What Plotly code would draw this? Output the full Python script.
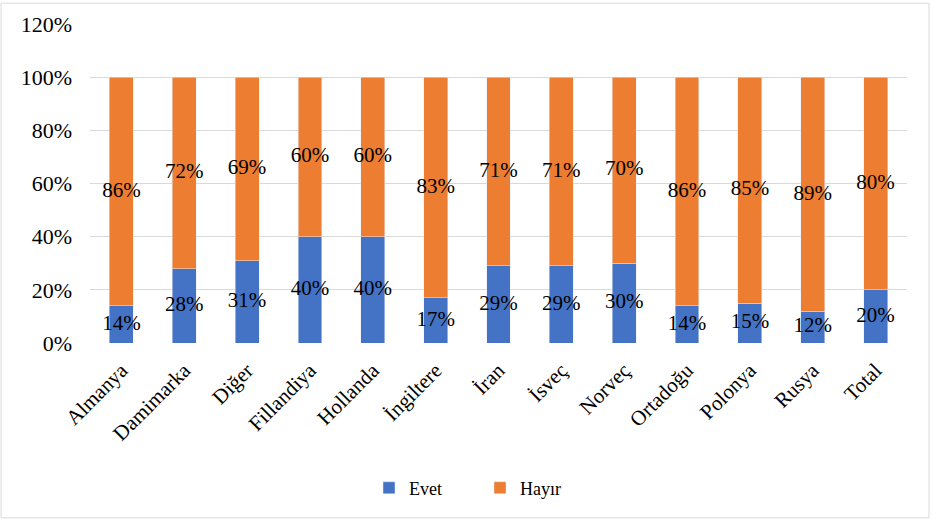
import plotly.graph_objects as go

categories = ["Almanya", "Damimarka", "Diğer", "Fillandiya", "Hollanda", "İngiltere",
              "İran", "İsveç", "Norveç", "Ortadoğu", "Polonya", "Rusya", "Total"]
evet = [14, 28, 31, 40, 40, 17, 29, 29, 30, 14, 15, 12, 20]
hayir = [86, 72, 69, 60, 60, 83, 71, 71, 70, 86, 85, 89, 80]
y_ticks = [0, 20, 40, 60, 80, 100, 120]

BLUE = "#4472C4"
ORANGE = "#ED7D31"
FONT = "Liberation Serif"

W, H = 932, 522
L, R, T, B = 90, 25, 22, 179
pw, ph = W - L - R, H - T - B

evet_n = [e / (e + h) * 100 for e, h in zip(evet, hayir)]
hayir_n = [h / (e + h) * 100 for e, h in zip(evet, hayir)]

fig = go.Figure()
fig.add_trace(go.Bar(x=categories, y=evet_n, name="Evet", marker_color=BLUE,
                     hoverinfo="skip"))
fig.add_trace(go.Bar(x=categories, y=hayir_n, name="Hayır", marker_color=ORANGE,
                     hoverinfo="skip"))

# data labels centred in each segment
fig.add_trace(go.Scatter(
    x=categories, y=[v / 2 for v in evet_n], mode="text",
    text=[f"{v}%" for v in evet], textfont=dict(family=FONT, size=21, color="black"),
    showlegend=False, hoverinfo="skip"))
fig.add_trace(go.Scatter(
    x=categories, y=[e + h / 2 for e, h in zip(evet_n, hayir_n)], mode="text",
    text=[f"{v}%" for v in hayir], textfont=dict(family=FONT, size=21, color="black"),
    showlegend=False, hoverinfo="skip"))

fig.update_layout(
    barmode="stack",
    bargap=0.62,
    width=W, height=H,
    margin=dict(l=L, r=R, t=T, b=B),
    paper_bgcolor="white", plot_bgcolor="white",
    font=dict(family=FONT, color="black"),
    legend=dict(orientation="h", x=(369 - L) / pw, xanchor="left", y=(343 - 489) / ph,
                yanchor="middle", font=dict(family=FONT, size=18, color="black"),
                itemwidth=30, traceorder="normal", entrywidth=66),
    showlegend=True,
)
fig.update_xaxes(tickangle=-45, tickfont=dict(family=FONT, size=21, color="black"),
                 range=[-0.5, len(categories) - 0.5],
                 showgrid=False, showline=False, ticks="", ticklabelstandoff=10)
fig.update_yaxes(range=[0, 120], tickvals=y_ticks, ticktext=[f"{v}%" for v in y_ticks],
                 tickfont=dict(family=FONT, size=22, color="black"),
                 showgrid=True, gridcolor="#D9D9D9", gridwidth=1, zeroline=False,
                 showline=False, ticks="", ticklabelstandoff=17)

# outer chart border
fig.add_shape(type="rect", xref="paper", yref="paper",
              x0=(1 - L) / pw, x1=(929 - L) / pw,
              y0=(343 - 519) / ph, y1=(343 - 1) / ph,
              line=dict(color="#D9D9D9", width=1), fillcolor="rgba(0,0,0,0)", layer="below")

fig.write_html("out.html", config={"displayModeBar": False},
               post_script="document.body.style.margin='0';")
